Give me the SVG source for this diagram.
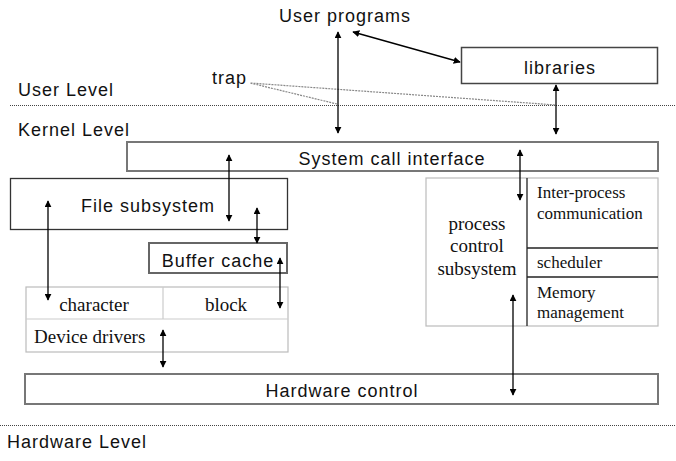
<svg xmlns="http://www.w3.org/2000/svg" width="676" height="461" viewBox="0 0 676 461">
<defs>
<marker id="ah" viewBox="0 0 10 10" refX="9" refY="5" markerWidth="7" markerHeight="7" markerUnits="userSpaceOnUse" orient="auto-start-reverse">
<path d="M0,0 L10,5 L0,10 z" fill="#000"/>
</marker>
<style>
.sans{font-family:"Liberation Sans",Arial,sans-serif;font-size:18px;letter-spacing:1px;fill:#111}
.serif{font-family:"Liberation Serif","Times New Roman",serif;font-size:19px;fill:#111}
.serifs{font-family:"Liberation Serif","Times New Roman",serif;font-size:17px;fill:#111}
.arr{stroke:#000;stroke-width:1.3;fill:none;marker-start:url(#ah);marker-end:url(#ah)}
.level{stroke:#444;stroke-width:1;stroke-dasharray:1,1}
.trapl{stroke:#888;stroke-width:1.2;stroke-dasharray:2,1;fill:none}
</style>
</defs>
<rect width="676" height="461" fill="#fff"/>

<g id="levels">
<line class="level" x1="10" y1="105.5" x2="676" y2="105.5"/>
<line class="level" x1="0" y1="425.5" x2="676" y2="425.5"/>
<text class="sans" x="18" y="96">User Level</text>
<text class="sans" x="18" y="136">Kernel Level</text>
<text class="sans" x="7" y="448">Hardware Level</text>
</g>

<g id="user-programs">
<text class="sans" x="345" y="22" text-anchor="middle">User programs</text>
</g>

<g id="libraries">
<rect x="461.5" y="47.5" width="196" height="36" fill="none" stroke="#444" stroke-width="1.5"/>
<text class="sans" x="560" y="74" text-anchor="middle">libraries</text>
</g>

<g id="trap">
<text class="sans" x="212" y="84">trap</text>
<polyline class="trapl" points="337,104 250,83 556,105"/>
</g>

<g id="system-call-interface">
<rect x="127" y="142" width="531" height="29" fill="none" stroke="#777" stroke-width="2"/>
<text class="sans" x="392" y="165" text-anchor="middle">System call interface</text>
</g>

<g id="file-subsystem">
<rect x="10.5" y="178.5" width="277" height="51" fill="none" stroke="#333" stroke-width="1.3"/>
<text class="sans" x="148" y="212" text-anchor="middle">File subsystem</text>
</g>

<g id="buffer-cache">
<rect x="149" y="243" width="138" height="30" fill="none" stroke="#666" stroke-width="2"/>
<text class="sans" x="218" y="267" text-anchor="middle">Buffer cache</text>
</g>

<g id="device-drivers">
<rect x="26" y="287" width="262" height="65" fill="none" stroke="#bbb" stroke-width="1.2"/>
<line x1="26" y1="319" x2="288" y2="319" stroke="#ccc" stroke-width="1.2"/>
<line x1="163" y1="287" x2="163" y2="319" stroke="#ccc" stroke-width="1.2"/>
<text class="serif" x="94" y="311" text-anchor="middle">character</text>
<text class="serif" x="226" y="311" text-anchor="middle">block</text>
<text class="serif" x="34" y="343">Device drivers</text>
</g>

<g id="process-control">
<rect x="426" y="178" width="232" height="148" fill="none" stroke="#bbb" stroke-width="1.2"/>
<line x1="527" y1="178" x2="527" y2="326" stroke="#222" stroke-width="1.3"/>
<line x1="527" y1="248" x2="658" y2="248" stroke="#222" stroke-width="1.3"/>
<line x1="527" y1="277" x2="658" y2="277" stroke="#222" stroke-width="1.3"/>
<text class="serif" x="477" y="230" text-anchor="middle">process</text>
<text class="serif" x="477" y="252" text-anchor="middle">control</text>
<text class="serif" x="477" y="275" text-anchor="middle">subsystem</text>
<text class="serifs" x="537" y="198">Inter-process</text>
<text class="serifs" x="537" y="219">communication</text>
<text class="serifs" x="537" y="268">scheduler</text>
<text class="serifs" x="537" y="298">Memory</text>
<text class="serifs" x="537" y="318">management</text>
</g>

<g id="hardware-control">
<rect x="25" y="374" width="633" height="30" fill="none" stroke="#777" stroke-width="2"/>
<text class="sans" x="342" y="397" text-anchor="middle">Hardware control</text>
</g>

<g id="connectors">
<line class="arr" x1="338" y1="32" x2="338" y2="133"/>
<line class="arr" x1="353" y1="32" x2="460" y2="62"/>
<line class="arr" x1="556" y1="85" x2="556" y2="134"/>
<line class="arr" x1="229" y1="155" x2="229" y2="221"/>
<line class="arr" x1="520" y1="150" x2="520" y2="200"/>
<line class="arr" x1="257" y1="208" x2="257" y2="243"/>
<line class="arr" x1="48" y1="201" x2="48" y2="300"/>
<line class="arr" x1="280" y1="258" x2="280" y2="308"/>
<line class="arr" x1="163" y1="330" x2="163" y2="367"/>
<line class="arr" x1="513" y1="295" x2="513" y2="395"/>
</g>
</svg>
